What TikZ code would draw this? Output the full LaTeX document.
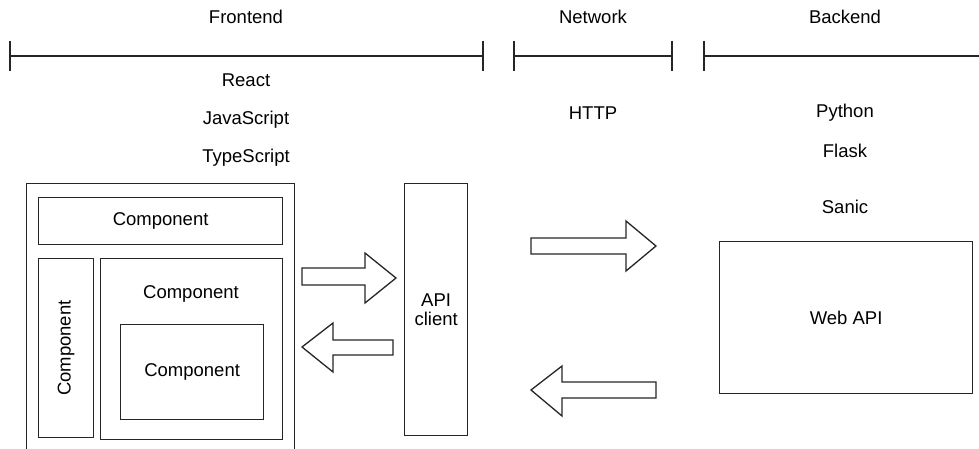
\documentclass[tikz,border=0pt]{standalone}
\usepackage{fontspec}
\setmainfont{Liberation Sans}
\begin{document}
\begin{tikzpicture}[x=1pt, y=-1pt, line width=1.3pt,
  every node/.style={font=\fontsize{18.5}{20}\selectfont, text=black},
  box/.style={draw=black!85, inner sep=0pt, anchor=north west},
  lbl/.style={inner sep=0pt, anchor=center, align=center},
  rail/.style={draw=black!85},
  blockarrow/.style={draw=black!85, fill=white, line join=miter}]

\useasboundingbox (0,0) rectangle (979,449);
\clip (0,0) rectangle (979,449);

% ---- tier timelines -------------------------------------------------
\coordinate (fe-l) at (10,56);  \coordinate (fe-r) at (483,56);
\coordinate (nw-l) at (514,56); \coordinate (nw-r) at (672,56);
\coordinate (be-l) at (704,56); \coordinate (be-r) at (985,56);
\draw[rail] (fe-l) -- (fe-r);
\draw[rail] (nw-l) -- (nw-r);
\draw[rail] (be-l) -- (be-r);
\foreach \c in {fe-l,fe-r,nw-l,nw-r,be-l}
  \draw[rail] (\c) ++(0,-15) -- ++(0,30);

\node[lbl] (fe-title) at (246,17) {Frontend};
\node[lbl] (nw-title) at (593,17) {Network};
\node[lbl] (be-title) at (845,17) {Backend};

% ---- technology stacks ----------------------------------------------
\node[lbl] (react) at (246,80)  {React};
\node[lbl] (js)    at (246,120) {JavaScript};
\node[lbl] (ts)    at (246,158) {TypeScript};
\node[lbl] (http)  at (593,113) {HTTP};
\node[lbl] (py)    at (845,113) {Python};
\node[lbl] (flask) at (845,151) {Flask};
\node[lbl] (sanic) at (845,207) {Sanic};

% ---- frontend application -------------------------------------------
\node[box, minimum width=268, minimum height=290] (app) at (26,183) {};
\node[box, minimum width=244, minimum height=47] (c-top) at (38,197) {Component};
\node[box, minimum width=55, minimum height=179] (c-side) at (38,258) {};
\node[lbl, rotate=90] (c-side-lbl) at (c-side.center) {Component};
\node[box, minimum width=182, minimum height=181] (c-main) at (100,258) {};
\node[lbl] (c-main-lbl) at (191,294) {Component};
\node[box, minimum width=143, minimum height=95] (c-inner) at (120,324) {Component};

% ---- API client and web API -----------------------------------------
\node[box, minimum width=63, minimum height=252] (api) at (404,183) {};
\node[lbl] (api-lbl) at (api.center) {API\\[-1pt]client};
\node[box, minimum width=253, minimum height=152] (web) at (719,241) {};
\node[lbl] (web-lbl) at (web.center) {Web API};

% ---- block arrows ---------------------------------------------------
% frontend -> API client
\draw[blockarrow] (302,268) -- (365,268) -- (365,253) -- (396,278)
  -- (365,303) -- (365,285) -- (302,285) -- cycle;
% API client -> frontend
\draw[blockarrow] (393,340) -- (333,340) -- (333,323) -- (302,347)
  -- (333,372) -- (333,355) -- (393,355) -- cycle;
% request over the network
\draw[blockarrow] (531,238) -- (626,238) -- (626,221) -- (656,246)
  -- (626,271) -- (626,254) -- (531,254) -- cycle;
% response over the network
\draw[blockarrow] (656,382) -- (562,382) -- (562,366) -- (531,390)
  -- (562,416) -- (562,398) -- (656,398) -- cycle;
\end{tikzpicture}
\end{document}
